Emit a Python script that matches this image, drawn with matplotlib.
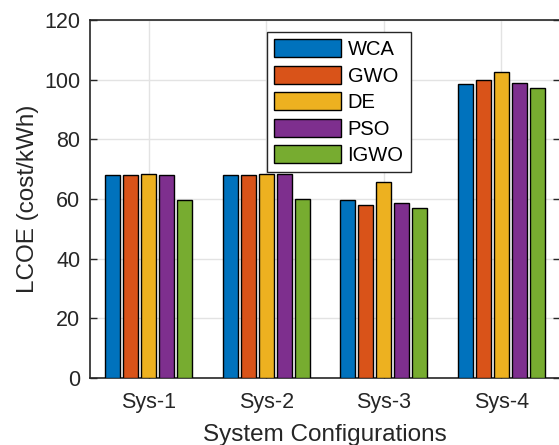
import numpy as np
import matplotlib
matplotlib.use('Agg')
import matplotlib.pyplot as plt

# data
systems = ['Sys-1', 'Sys-2', 'Sys-3', 'Sys-4']
methods = ['WCA', 'GWO', 'DE', 'PSO', 'IGWO']
wca = [68.0, 68.0, 59.7, 98.7]
gwo = [68.0, 68.1, 58.0, 99.8]
de = [68.3, 68.4, 65.7, 102.5]
pso = [68.2, 68.3, 58.7, 98.9]
igwo = [59.7, 60.0, 57.0, 97.1]
series = [wca, gwo, de, pso, igwo]
colors = ['#0072BD', '#D95319', '#EDB120', '#7E2F8E', '#77AC30']

plt.rcParams['font.family'] = ['Liberation Sans', 'DejaVu Sans']
ink = '#262626'

fig = plt.figure(figsize=(5.59, 4.45), dpi=100)
ax = fig.add_axes([90 / 559, 1 - 378 / 445, 470 / 559, 358 / 445])

x = np.arange(1, len(systems) + 1)
step = 0.153
width = 0.128
for i, (vals, col, name) in enumerate(zip(series, colors, methods)):
    ax.bar(x + (i - 2) * step, vals, width, color=col, edgecolor='black',
           linewidth=1.0, label=name, zorder=3)

ax.set_xlim(0.5, 4.5)
ax.set_ylim(0, 120)
ax.set_yticks(np.arange(0, 121, 20))
ax.set_xticks(x)
ax.set_xticklabels(systems)
ax.tick_params(direction='in', length=5, width=1, colors=ink, labelsize=15.5,
               top=False, right=True, pad=7)
ax.tick_params(axis='x', pad=10)
ax.grid(True, color='#e3e3e3', linewidth=1, zorder=0)
ax.set_axisbelow(True)
for s in ax.spines.values():
    s.set_color(ink)
    s.set_linewidth(1.2)

ax.set_ylabel('LCOE (cost/kWh)', fontsize=17.5, color=ink, labelpad=4)
ax.set_xlabel('System Configurations', fontsize=17.5, color=ink, labelpad=8)

leg = ax.legend(loc='upper left', bbox_to_anchor=(177 / 470, 1 - 12 / 358),
                fontsize=14.5, handlelength=3.3, handleheight=1.0,
                labelspacing=0.33, handletextpad=0.35, borderpad=0.35,
                borderaxespad=0, fancybox=False, framealpha=1)
leg.get_frame().set_edgecolor(ink)
leg.get_frame().set_linewidth(1.0)
for t in leg.get_texts():
    t.set_color('black')

fig.savefig('out.png', dpi=100)
